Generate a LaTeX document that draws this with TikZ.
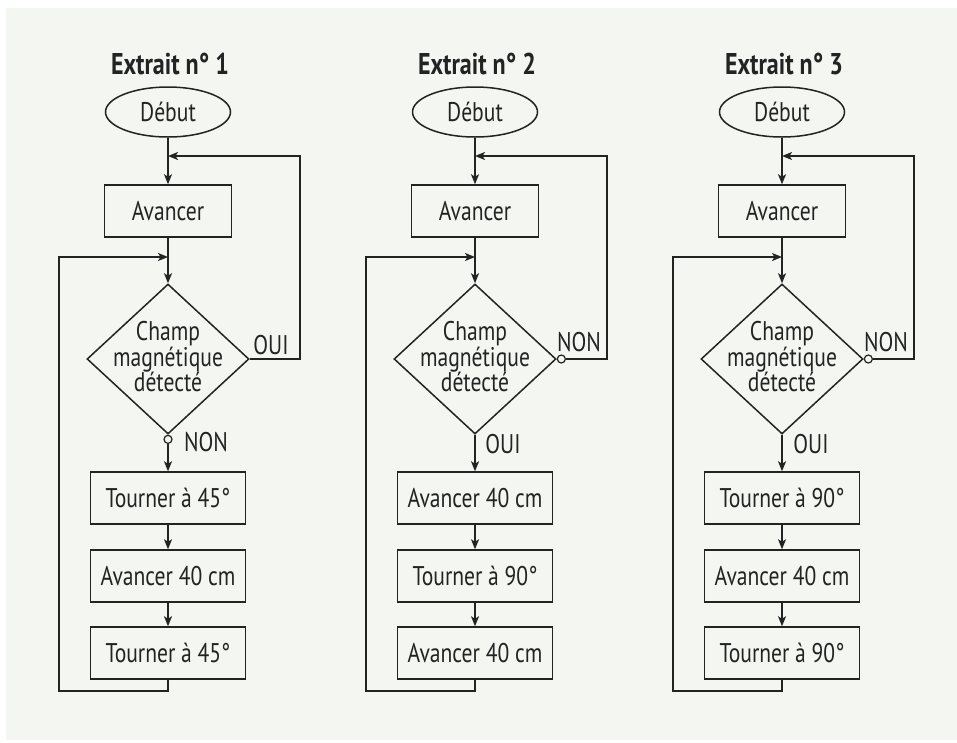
\documentclass[tikz,border=0pt]{standalone}
\usepackage{fontspec}
\setmainfont{PT Sans}[FakeStretch=0.8]
\usetikzlibrary{shapes.geometric,arrows.meta}
\definecolor{paper}{RGB}{244,246,241}
\definecolor{ink}{RGB}{35,35,35}
\tikzset{
  every node/.style={text=ink, font=\fontsize{27}{28}\selectfont},
  proc/.style={draw=ink, line width=1.5pt, rectangle, minimum width=155pt, minimum height=52pt, inner sep=0pt},
  proc small/.style={proc, minimum width=127pt},
  startbox/.style={draw=ink, line width=1.5pt, ellipse, minimum width=125pt, minimum height=50pt, inner sep=0pt},
  decision/.style={draw=ink, line width=1.5pt, diamond, minimum width=162pt, minimum height=150pt, inner sep=0pt},
  dectext/.style={align=center, inner sep=0pt, font=\fontsize{27}{25.5}\selectfont},
  titlefont/.style={font=\fontsize{30}{30}\selectfont\bfseries},
  arr/.style={draw=ink, line width=1.5pt, -{Stealth[length=10pt,width=8pt,inset=2.5pt]}},
  circ/.style={draw=ink, line width=1.2pt, fill=paper, circle, minimum size=8pt, inner sep=0pt},
  lbl/.style={inner sep=0pt}
}
\newcommand\flowcol[6]{%
  % #1 suffix, #2 center x, #3 title number, #4 #5 #6 box texts
  \node[titlefont] (title#1) at (#2+2,64) {Extrait n° #3};
  \node[startbox] (deb#1) at (#2,112) {Début};
  \node[proc small] (av#1) at (#2,211) {Avancer};
  \node[decision] (dec#1) at (#2,359) {};
  \node[dectext] (dect#1) at (#2,357) {Champ\\magnétique\\détecté};
  \node[proc] (pa#1) at (#2,498) {#4};
  \node[proc] (pb#1) at (#2,576) {#5};
  \node[proc] (pc#1) at (#2,653) {#6};
  \coordinate (jr#1) at (#2,156);
  \coordinate (jl#1) at (#2,257);
  \coordinate (rx#1) at (#2+132,0);
  \coordinate (bl#1) at (#2-109,691);
  \draw[arr] (deb#1) -- (av#1);
  \draw[arr] (av#1) -- (dec#1);
  \draw[arr] (pa#1) -- (pb#1);
  \draw[arr] (pb#1) -- (pc#1);
  \draw[arr] (pc#1.south) |- (bl#1) |- (jl#1);
}
\begin{document}
\begin{tikzpicture}[x=1pt,y=-1pt]
\useasboundingbox (0,0) rectangle (957,742);
\fill[white] (0,0) rectangle (957,742);
\fill[paper] (6,8) rectangle (957,740);

% ---------- Extrait 1 ----------
\flowcol{1}{168}{1}{Tourner à 45°}{Avancer 40 cm}{Tourner à 45°}
\draw[arr] (dec1.east) -| (rx1 |- jr1) -- (jr1);
\node[lbl] (oui1) at (271,345) {OUI};
\node[circ, anchor=north] (c1) at (dec1.south) {};
\draw[arr] (c1.south) -- (pa1);
\node[lbl] (non1) at (206,442) {NON};

% ---------- Extrait 2 ----------
\flowcol{2}{475}{2}{Avancer 40 cm}{Tourner à 90°}{Avancer 40 cm}
\node[circ, anchor=west] (c2) at (dec2.east) {};
\draw[arr] (c2.east) -| (rx2 |- jr2) -- (jr2);
\node[lbl] (non2) at (579,342) {NON};
\draw[arr] (dec2.south) -- (pa2);
\node[lbl] (oui2) at (503,444) {OUI};

% ---------- Extrait 3 ----------
\flowcol{3}{782}{3}{Tourner à 90°}{Avancer 40 cm}{Tourner à 90°}
\node[circ, anchor=west] (c3) at (dec3.east) {};
\draw[arr] (c3.east) -| (rx3 |- jr3) -- (jr3);
\node[lbl] (non3) at (886,342) {NON};
\draw[arr] (dec3.south) -- (pa3);
\node[lbl] (oui3) at (811,444) {OUI};
\end{tikzpicture}
\end{document}
